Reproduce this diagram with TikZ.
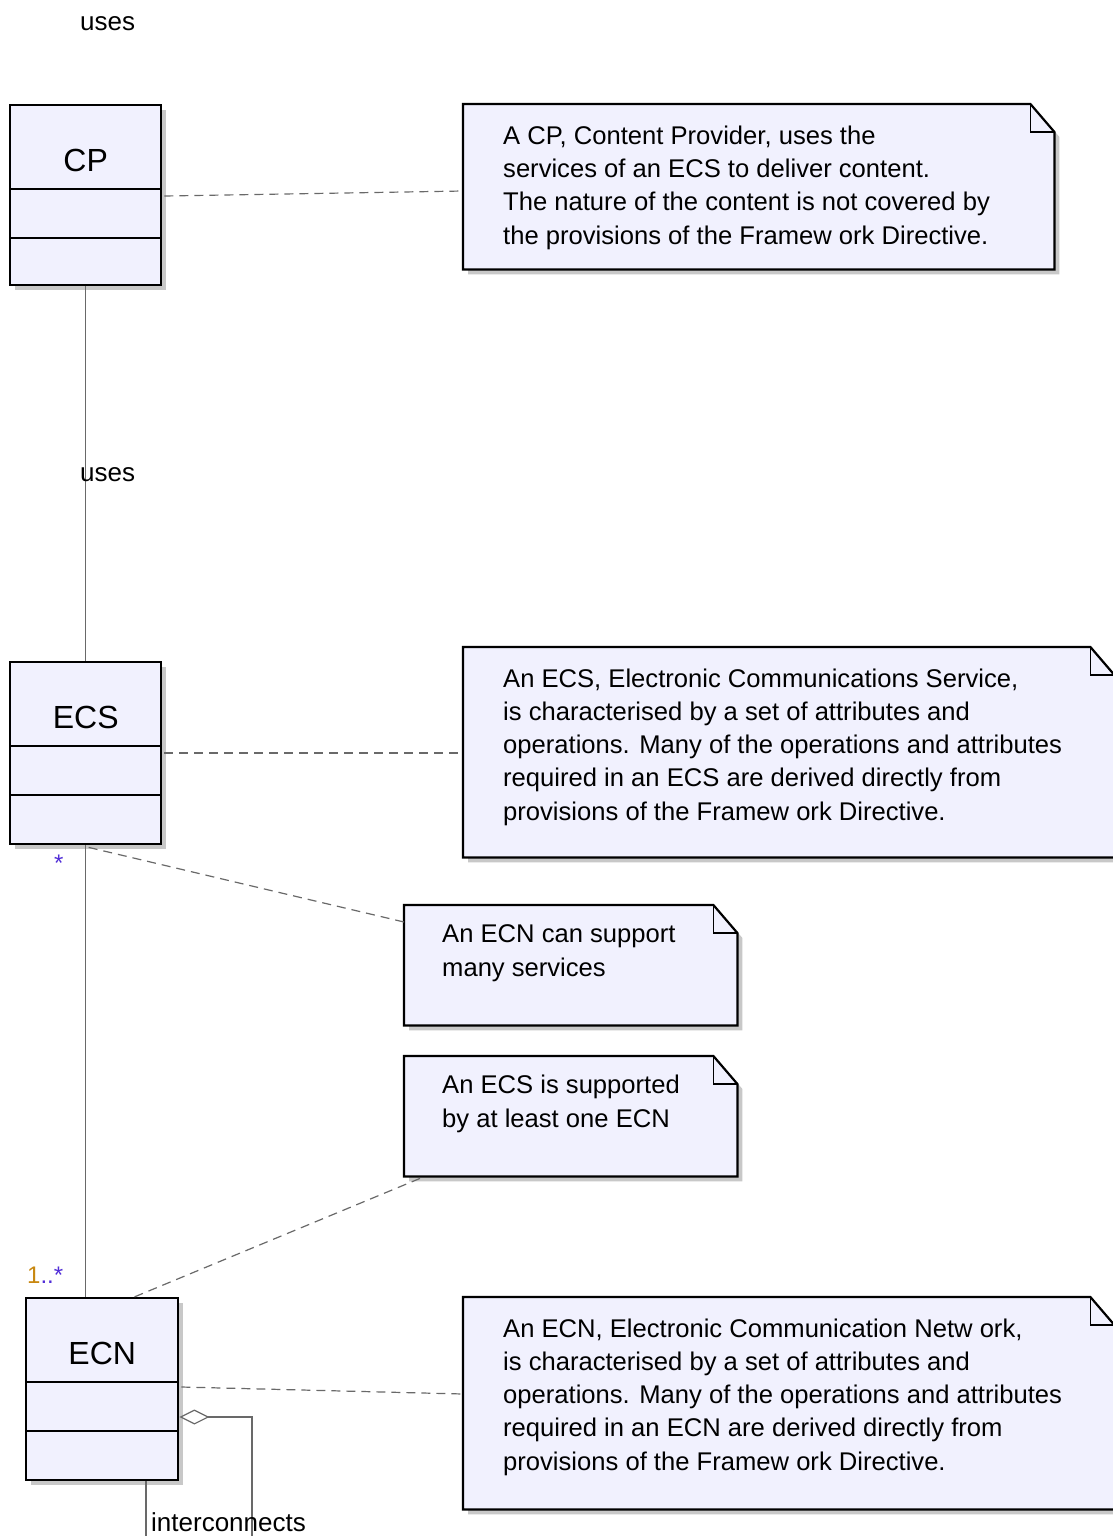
\documentclass[tikz,border=0pt]{standalone}
\usepackage{fontspec}
\setmainfont{Liberation Sans}
\usetikzlibrary{calc,arrows.meta,shadows}

\definecolor{boxfill}{RGB}{241,241,254}
\definecolor{shade}{RGB}{200,200,200}
\definecolor{wire}{RGB}{105,105,105}
\definecolor{multblue}{RGB}{80,45,215}
\definecolor{multorange}{RGB}{200,135,15}

\tikzset{
  boxshadow/.style={drop shadow={shadow xshift=5pt,shadow yshift=-5pt,fill=shade,opacity=1}},
  classbox/.style={draw=black, line width=2.4pt, fill=boxfill, boxshadow,
    inner sep=0pt, anchor=north west, minimum width=151pt, minimum height=180pt},
  classtitle/.style={anchor=base, inner sep=0pt, font=\fontsize{32}{36}\selectfont},
  divider/.style={draw=black, line width=2.4pt},
  notebox/.style={draw=none, inner sep=0pt, anchor=north west},
  noteline/.style={draw=black, line width=2.2pt, fill=boxfill, line join=miter},
  foldline/.style={draw=black, line width=1.8pt},
  % anchored at the baseline of the last line
  notetext/.style={anchor=base west, align=left, inner sep=0pt, font=\fontsize{25.6}{33.1}\selectfont},
  lbl/.style={anchor=base west, inner sep=0pt, font=\fontsize{26}{30}\selectfont},
  mult/.style={anchor=base west, inner sep=0pt, font=\fontsize{24}{28}\selectfont},
  wireline/.style={draw=wire, line width=1.2pt},
  dashline/.style={draw=wire, line width=1.2pt, dash pattern=on 9pt off 6pt},
}

% UML note: rectangle with a folded top-right corner
\newcommand\umlnote[1]{%
  \path[noteline, boxshadow] (#1.north west) -- ($(#1.north east)+(-24,0)$)
    -- ($(#1.north east)+(0,28)$) -- (#1.south east) -- (#1.south west) -- cycle;
  \draw[foldline] ($(#1.north east)+(-24,0)$) -- ($(#1.north east)+(-24,28)$)
    -- ($(#1.north east)+(0,28)$);
}
% class box: title compartment and two empty compartments
\newcommand\umlclass[2]{%
  \draw[divider] ($(#1.north west)+(0,85)$) -- ($(#1.north east)+(0,85)$);
  \draw[divider] ($(#1.north west)+(0,134)$) -- ($(#1.north east)+(0,134)$);
  \node[classtitle] (#1name) at ($(#1.north)+(0,67)$) {#2};
}

\begin{document}
\begin{tikzpicture}[x=1pt,y=-1pt]
\useasboundingbox (0,0) rectangle (1113,1536);
\fill[white] (0,0) rectangle (1113,1536);

% classes
\node[classbox] (cp)  at (9,104)  {};
\node[classbox, minimum height=182pt] (ecs) at (9,661)  {};
\node[classbox, minimum width=152pt, minimum height=182pt] (ecn) at (25,1297) {};
\umlclass{cp}{CP}
\umlclass{ecs}{ECS}
\umlclass{ecn}{ECN}

% notes
\node[notebox, minimum width=591pt, minimum height=165pt] (n1) at (463,104) {};
\node[notebox, minimum width=651pt, minimum height=210pt] (n2) at (463,647) {};
\node[notebox, minimum width=333pt, minimum height=120pt] (n3) at (404,905) {};
\node[notebox, minimum width=333pt, minimum height=120pt] (n4) at (404,1056) {};
\node[notebox, minimum width=651pt, minimum height=212pt] (n5) at (463,1297) {};
\umlnote{n1}
\umlnote{n2}
\umlnote{n3}
\umlnote{n4}
\umlnote{n5}

\node[notetext] (n1t) at ($(n1.north west)+(40,140)$)
  {A CP, Content Provider, uses the\\services of an ECS to deliver content.\\The nature of the content is not covered by\\the provisions of the Framew ork Directive.};
\node[notetext] (n2t) at ($(n2.north west)+(40,173)$)
  {An ECS, Electronic Communications Service,\\is characterised by a set of attributes and\\operations. Many of the operations and attributes\\required in an ECS are derived directly from\\provisions of the Framew ork Directive.};
\node[notetext] (n3t) at ($(n3.north west)+(38,71)$)
  {An ECN can support\\many services};
\node[notetext] (n4t) at ($(n4.north west)+(38,71)$)
  {An ECS is supported\\by at least one ECN};
\node[notetext] (n5t) at ($(n5.north west)+(40,173)$)
  {An ECN, Electronic Communication Netw ork,\\is characterised by a set of attributes and\\operations. Many of the operations and attributes\\required in an ECN are derived directly from\\provisions of the Framew ork Directive.};

% associations
\draw[wireline] (cp.south) -- (ecs.north);
\draw[wireline] (ecs.south) -- (ecs.south |- ecn.north);
\draw[wireline, {Diamond[open,length=30pt,width=15pt]}-]
  ($(ecn.north east)+(0,120)$) -| (252,1600) -| ($(ecn.south west)+(121,0)$);

% note anchors
\draw[dashline] ($(cp.north east)+(2,92)$) -- ($(n1.north west)+(0,87)$);
\draw[dashline] ($(ecs.north east)+(2,92)$) -- ($(n2.north west)+(0,106)$);
\draw[dashline] ($(ecs.south)+(3,2)$) -- ($(n3.north west)+(0,17)$);
\draw[dashline] ($(n4.south west)+(16,2)$) -- ($(ecn.north)+(32,0)$);
\draw[dashline] ($(ecn.north east)+(2,90)$) -- ($(n5.north west)+(0,97)$);

% labels
\node[lbl] (usestop) at (80,31) {uses};
\node[lbl] (usesmid) at (80,481) {uses};
\node[lbl] (inter) at (151,1531) {interconnects};
\node[mult, text=multblue] (mecs) at (54,871) {*};
\node[mult] (mecn) at (27,1283) {\textcolor{multorange}{1}\textcolor{multblue}{..*}};
\end{tikzpicture}
\end{document}
